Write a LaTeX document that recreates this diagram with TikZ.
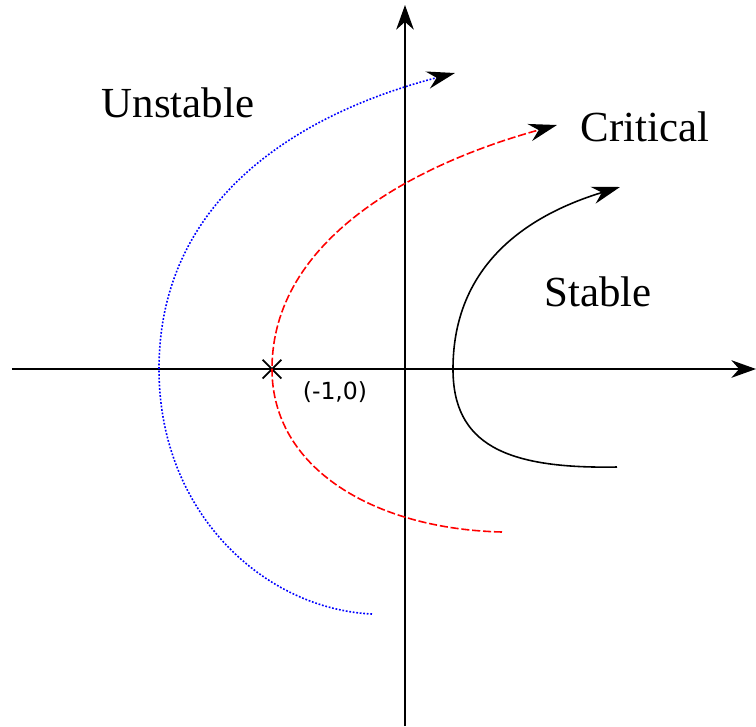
\documentclass[tikz,border=0pt]{standalone}
\usepackage{fontspec}
\setmainfont{Liberation Serif}
\newfontfamily\labelsans{DejaVu Sans}
\usepackage{tikz}
\usetikzlibrary{arrows.meta, shapes.misc}
\tikzset{
  axis/.style={-{Stealth[length=7pt, width=5pt, inset=2.2pt]}, line width=0.55pt},
  locus/.style={-{Stealth[length=8pt, width=5pt, inset=2.6pt, color=black]}, line width=0.45pt},
  curvelabel/.style={anchor=base, inner sep=0pt, font=\fontsize{12.2}{14}\selectfont}
}

\begin{document}
\begin{tikzpicture}
    \useasboundingbox (-4.05,-3.57) rectangle (3.51,3.69);
    \coordinate (xl) at (-3.93, 0);
    \coordinate (xr) at ( 3.51, 0);
    \coordinate (yb) at ( 0, -3.57);
    \coordinate (yt) at ( 0,  3.64);
    \draw[axis] (xl) -- (xr);
    \draw[axis] (yb) -- (yt);
    \node[draw, cross out, minimum size=0.17cm, inner sep=0pt, line width=0.5pt] (pole) at (-1.33, 0) {};
    \node[anchor=base, inner sep=0pt, font=\labelsans\fontsize{6.7}{8}\selectfont] (polelab) at (-0.70, -0.30) {(-1,0)};
    %% the three loci, each drawn from the lower end up to its arrow
    \draw[locus, blue, dash pattern=on 0.5pt off 0.5pt] (-0.33,-2.45)
                .. controls (-1.4,-2.4) and (-2.46,-1.45) .. (-2.46, 0)
                .. controls (-2.46, 1.8) and (-0.9, 2.6) .. (0.50, 2.96);
    \draw[locus, red, dash pattern=on 2.3pt off 0.8pt] (0.97,-1.63)
                .. controls (-0.3,-1.6) and (-1.33,-1.0) .. (pole.center)
                .. controls (-1.33, 1.3) and (0.1, 2.05) .. (1.52, 2.44);
    \draw[locus] (2.12,-0.98)
                .. controls (1.0,-1.0) and (0.48,-0.75) .. (0.48, 0)
                .. controls (0.48, 0.95) and (1.1, 1.5) .. (2.15, 1.82);
    \node[curvelabel] (unstable) at (-2.27, 2.52) {Unstable};
    \node[curvelabel] (critical) at ( 2.40, 2.28) {Critical};
    \node[curvelabel] (stable)   at ( 1.93, 0.63) {Stable};
  \end{tikzpicture}
\end{document}
